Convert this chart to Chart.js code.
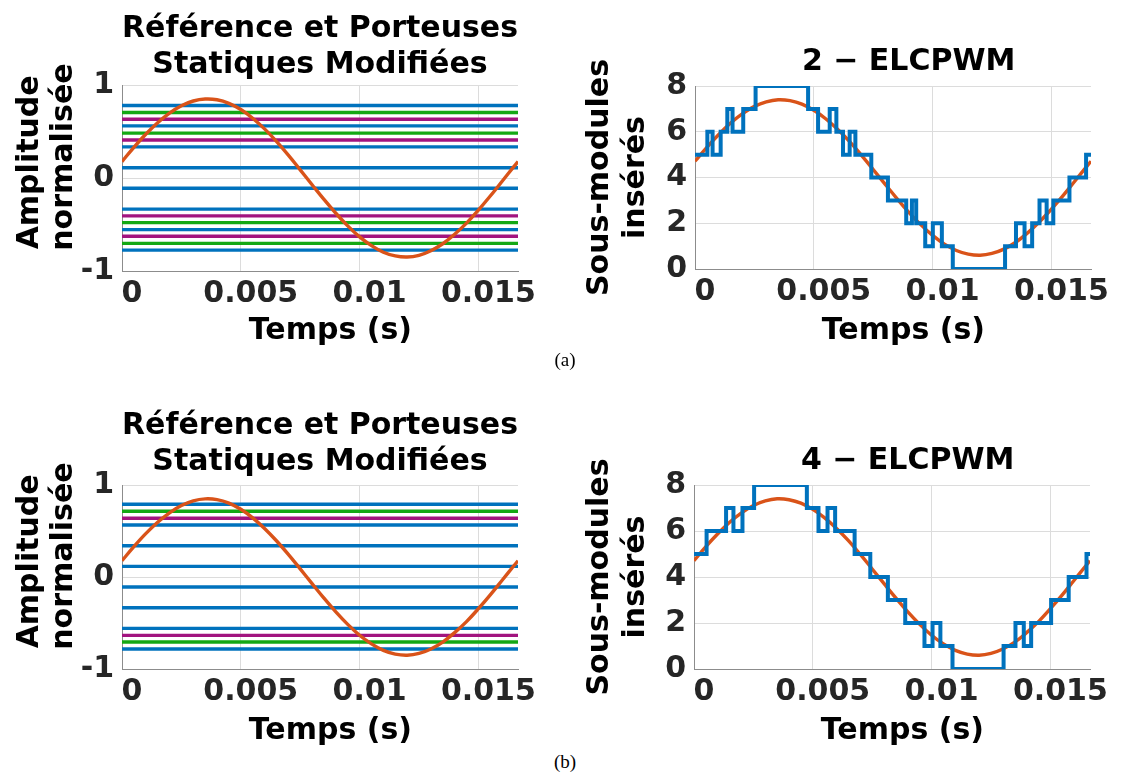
<!DOCTYPE html>
<html><head><meta charset="utf-8">
<script src="https://cdn.jsdelivr.net/npm/chart.js@4.4.0/dist/chart.umd.min.js"></script>
<style>
html,body{margin:0;padding:0;background:#fff;}
body{width:1124px;height:776px;position:relative;overflow:hidden;}
canvas{position:absolute;}
.cap{position:absolute;font-family:"Liberation Serif","Times New Roman",serif;font-size:19px;color:#000;width:60px;text-align:center;}
</style></head><body>
<canvas id="cA1" width="562" height="350" style="left:0;top:0"></canvas>
<canvas id="cA2" width="562" height="350" style="left:562px;top:0"></canvas>
<canvas id="cB1" width="562" height="350" style="left:0;top:400px"></canvas>
<canvas id="cB2" width="562" height="350" style="left:562px;top:400px"></canvas>
<div class="cap" style="left:535px;top:349px">(a)</div>
<div class="cap" style="left:535px;top:751px">(b)</div>
<script>
// ---- data ----
const timeTicks = [0, 0.005, 0.01, 0.015];
const timeTickLabels = ['0', '0.005', '0.01', '0.015'];
const timeEnd = 0.016667;
const ampTicks = [-1, 0, 1];
const ampTickLabels = ['-1', '0', '1'];
const moduleTicks = [0, 2, 4, 6, 8];
const moduleTickLabels = ['0', '2', '4', '6', '8'];

const refTime = [0,0.0005,0.001,0.0015,0.002,0.0025,0.003,0.0035,0.004,0.0045,0.005,0.0055,0.006,0.0065,0.007,0.0075,0.008,0.0085,0.009,0.0095,0.01,0.0105,0.011,0.0115,0.012,0.0125,0.013,0.0135,0.014,0.0145,0.015,0.0155,0.016,0.0165,0.016667];
const refAmplitude = [0.177,0.330,0.471,0.595,0.698,0.777,0.828,0.849,0.841,0.803,0.736,0.643,0.528,0.394,0.246,0.088,-0.072,-0.230,-0.379,-0.515,-0.633,-0.727,-0.798,-0.838,-0.850,-0.831,-0.782,-0.707,-0.605,-0.485,-0.345,-0.194,-0.035,0.125,0.177];
const refModules = [4.71,5.32,5.88,6.38,6.79,7.11,7.31,7.40,7.36,7.21,6.94,6.57,6.11,5.58,4.98,4.35,3.71,3.08,2.48,1.94,1.47,1.09,0.81,0.65,0.60,0.68,0.87,1.17,1.58,2.06,2.62,3.22,3.86,4.50,4.71];

// carriers (a)
const carriersA_blue = [0.78, 0.56, 0.335, 0.11, -0.11, -0.335, -0.555, -0.775];
const carriersA_green = [0.705, 0.483, -0.48, -0.703];
const carriersA_purple = [0.632, 0.408, -0.407, -0.627];
// carriers (b)
const carriersB_blue = [0.79, 0.565, 0.34, 0.116, -0.109, -0.334, -0.558, -0.783];
const carriersB_green = [0.714, -0.707];
const carriersB_purple = [0.638, -0.634];

// inserted sub-modules, 2-ELCPWM
const stepTimeA = [0,0.00052,0.00074,0.00108,0.00136,0.00158,0.00203,0.00255,0.00476,0.00518,0.00567,0.00595,0.00623,0.00651,0.00675,0.00742,0.00812,0.00889,0.00913,0.00931,0.00969,0.01001,0.01039,0.01085,0.01305,0.01351,0.01387,0.01419,0.0145,0.0148,0.01508,0.01576,0.01646,0.016667];
const stepLevelA = [5,6,5,6,7,6,7,8,7,6,7,6,5,6,5,4,3,2,3,2,1,2,1,0,1,2,1,2,3,2,3,4,5,5];
// inserted sub-modules, 4-ELCPWM
const stepTimeB = [0,0.00053,0.00135,0.00166,0.00204,0.00253,0.00475,0.00524,0.00562,0.00594,0.00676,0.00742,0.00816,0.00889,0.0097,0.01004,0.01037,0.01088,0.01303,0.01353,0.01388,0.01419,0.01503,0.01577,0.01652,0.016667];
const stepLevelB = [5,6,7,6,7,8,7,6,7,6,5,4,3,2,1,2,1,0,1,2,1,2,3,4,5,5];

// ---- styles ----
const FONT = '"DejaVu Sans", "Liberation Sans", sans-serif';
const FS = 30;
const BLUE = '#0072BD', ORANGE = '#D95319', GREEN = '#14A814', PURPLE = '#A2147F';
const GRID = '#dcdcdc', AXIS = '#8c8c8c', TICKC = '#262626';

function pts(xs, ys) { return xs.map((x, i) => ({x: x, y: ys[i]})); }
function hline(v, color) {
  return {data: [{x: 0, y: v}, {x: timeEnd, y: v}], borderColor: color, borderWidth: 3.4, pointRadius: 0};
}

function makeChart(id, o) {
  new Chart(document.getElementById(id), {
    type: 'line',
    data: {datasets: o.datasets},
    options: {
      animation: false, responsive: false, devicePixelRatio: 1,
      layout: {padding: {left: 0, right: o.padRight, top: 0, bottom: 0}},
      plugins: {
        legend: {display: false}, tooltip: {enabled: false},
        title: {display: true, text: o.title, fullSize: false, color: '#000',
          font: {family: FONT, size: FS, weight: 'bold', lineHeight: 1.2},
          padding: {top: o.titleTop, bottom: o.titleBottom}}
      },
      scales: {
        x: {
          type: 'linear', min: 0, max: timeEnd,
          afterBuildTicks: s => { s.ticks = timeTicks.map(v => ({value: v})); },
          afterFit: s => { s.height = o.xHeight; },
          ticks: {callback: (v, i) => timeTickLabels[i], color: TICKC, padding: 5, labelOffset: 10,
            font: {family: FONT, size: FS, weight: 'bold'}, maxRotation: 0, autoSkip: false},
          grid: {color: GRID, drawTicks: false, lineWidth: 1},
          border: {color: AXIS, width: 1},
          title: {display: true, text: '  Temps (s)', color: '#000',
            font: {family: FONT, size: FS, weight: 'bold', lineHeight: 1.2}, padding: {top: 0, bottom: 1}}
        },
        y: {
          type: 'linear', min: o.yMin, max: o.yMax,
          afterBuildTicks: s => { s.ticks = o.yTicks.map(v => ({value: v})); },
          afterFit: s => { s.width = o.yWidth; },
          ticks: {callback: (v, i) => o.yLabels[i], color: TICKC, padding: 8,
            font: {family: FONT, size: FS, weight: 'bold'}, autoSkip: false},
          grid: {color: GRID, drawTicks: false, lineWidth: 1},
          border: {color: AXIS, width: 1},
          title: {display: true, text: o.yTitle, color: '#000',
            font: {family: FONT, size: FS, weight: 'bold', lineHeight: o.yTitleLH}, padding: {top: o.yTitlePad, bottom: 0}}
        }
      }
    }
  });
}

function leftDatasets(blue, green, purple) {
  const ds = [{data: pts(refTime, refAmplitude), borderColor: ORANGE, borderWidth: 3.4, pointRadius: 0, tension: 0.4}];
  blue.forEach(v => ds.push(hline(v, BLUE)));
  green.forEach(v => ds.push(hline(v, GREEN)));
  purple.forEach(v => ds.push(hline(v, PURPLE)));
  return ds;
}
function rightDatasets(st, sl) {
  return [
    {data: pts(st, sl), borderColor: BLUE, borderWidth: 4, pointRadius: 0, stepped: 'before'},
    {data: pts(refTime, refModules), borderColor: ORANGE, borderWidth: 3.4, pointRadius: 0, tension: 0.4}
  ];
}

makeChart('cA1', {datasets: leftDatasets(carriersA_blue, carriersA_green, carriersA_purple),
  title: ['Référence et Porteuses', 'Statiques Modifiées'], titleTop: 11, titleBottom: 2,
  padRight: 44, xHeight: 79, yWidth: 122, yMin: -1, yMax: 1, yTicks: ampTicks, yLabels: ampTickLabels,
  yTitle: ['   Amplitude', '    normalisée'], yTitlePad: 13, yTitleLH: 1.14});
makeChart('cA2', {datasets: rightDatasets(stepTimeA, stepLevelA),
  title: '   2 − ELCPWM', titleTop: 44, titleBottom: 6,
  padRight: 33, xHeight: 81, yWidth: 133, yMin: 0, yMax: 8, yTicks: moduleTicks, yLabels: moduleTickLabels,
  yTitle: ['Sous-modules', 'insérés'], yTitlePad: 20, yTitleLH: 1.2});
makeChart('cB1', {datasets: leftDatasets(carriersB_blue, carriersB_green, carriersB_purple),
  title: ['Référence et Porteuses', 'Statiques Modifiées'], titleTop: 8, titleBottom: 5,
  padRight: 44, xHeight: 81, yWidth: 122, yMin: -1, yMax: 1, yTicks: ampTicks, yLabels: ampTickLabels,
  yTitle: ['   Amplitude', '    normalisée'], yTitlePad: 13, yTitleLH: 1.14});
makeChart('cB2', {datasets: rightDatasets(stepTimeB, stepLevelB),
  title: '   4 − ELCPWM', titleTop: 43, titleBottom: 6,
  padRight: 34, xHeight: 81, yWidth: 132, yMin: 0, yMax: 8, yTicks: moduleTicks, yLabels: moduleTickLabels,
  yTitle: ['Sous-modules', 'insérés'], yTitlePad: 20, yTitleLH: 1.2});
</script>
</body></html>
